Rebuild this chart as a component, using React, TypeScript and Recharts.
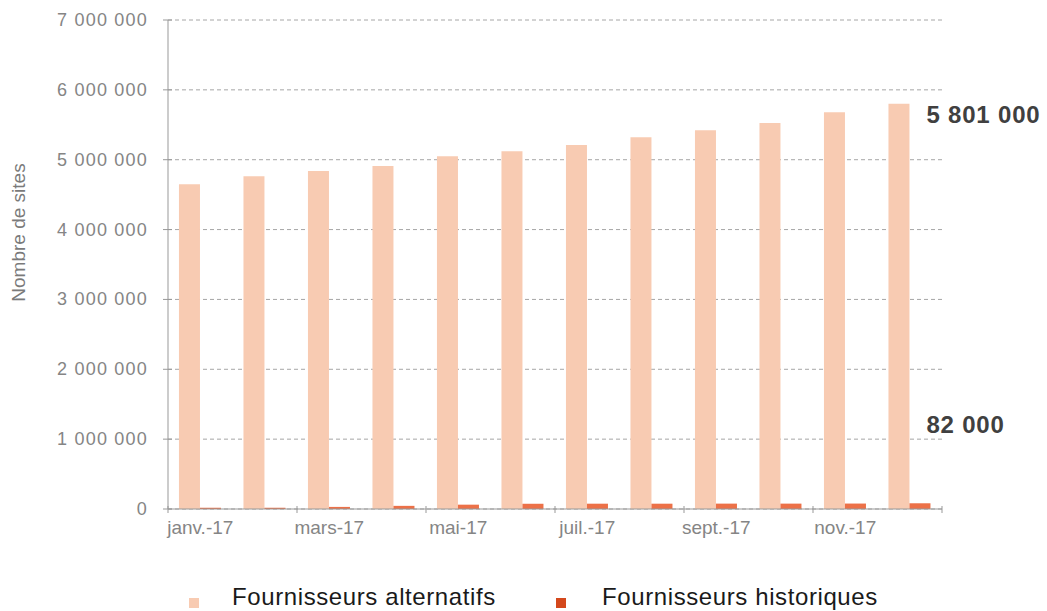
import { BarChart, Bar, XAxis, YAxis, CartesianGrid, LabelList } from 'recharts'

const months = ['janv.-17', 'févr.-17', 'mars-17', 'avr.-17', 'mai-17', 'juin-17', 'juil.-17', 'août-17', 'sept.-17', 'oct.-17', 'nov.-17', 'déc.-17']
const alternatifs = [4650000, 4765000, 4840000, 4910000, 5050000, 5120000, 5210000, 5320000, 5420000, 5525000, 5680000, 5801000]
const historiques = [18000, 18000, 30000, 45000, 62000, 75000, 76000, 76000, 77000, 77000, 78000, 82000]
const yTicks = [0, 1000000, 2000000, 3000000, 4000000, 5000000, 6000000, 7000000]

const data = months.map((m, i) => ({ month: m, alt: alternatifs[i], hist: historiques[i] }))

const FONT = '"Liberation Sans", Arial, sans-serif'
const ALT_COLOR = '#f8cbb2'
const HIST_COLOR = '#ec7148'

// spaces as thousand separators, French style
const fmt = (v: number) => String(v).replace(/\B(?=(\d{3})+(?!\d))/g, ' ')

function MonthTick({ x, y, payload, index }: any) {
  const half = payload?.offset ?? 32
  return (
    <g>
      {index % 2 === 0 && (
        <>
          <line x1={x - half} x2={x - half} y1={y - 3} y2={y + 4} stroke="#999" />
          <text x={x} y={y + 25} textAnchor="middle" fontSize={19} fill="#858585" fontFamily={FONT}>
            {payload.value}
          </text>
        </>
      )}
      {index === months.length - 1 && <line x1={x + half} x2={x + half} y1={y - 3} y2={y + 4} stroke="#999" />}
    </g>
  )
}

function ValueTick({ x, y, payload }: any) {
  return (
    <g>
      <line x1={x - 5} x2={x + 4} y1={y} y2={y} stroke="#999" />
      <text x={x - 20} y={y + 6} textAnchor="end" fontSize={18} letterSpacing={1.2} fill="#858585" fontFamily={FONT}>
        {fmt(payload.value)}
      </text>
    </g>
  )
}

function AltEndLabel(props: any) {
  const { x, y, width, value, index } = props
  if (index !== months.length - 1) return null
  return (
    <text x={x + width + 17} y={y + 19} fontSize={24} letterSpacing={0.8} fontWeight="bold" fill="#404040" fontFamily={FONT}>
      {fmt(value)}
    </text>
  )
}

function HistEndLabel(props: any) {
  const { x, y, value, index } = props
  if (index !== months.length - 1) return null
  return (
    <text x={x + 17} y={y - 70} fontSize={24} letterSpacing={0.8} fontWeight="bold" fill="#404040" fontFamily={FONT}>
      {fmt(value)}
    </text>
  )
}

function AxisTitle({ viewBox }: any) {
  const cx = 18
  const cy = viewBox.y + viewBox.height / 2 - 32
  return (
    <text x={cx} y={cy} transform={`rotate(-90, ${cx}, ${cy})`} textAnchor="middle" dominantBaseline="central" fontSize={19} fill="#7a7a7a" fontFamily={FONT}>
      Nombre de sites
    </text>
  )
}

const legendItems = [
  { square: 189, text: 232, color: ALT_COLOR, label: 'Fournisseurs alternatifs' },
  { square: 556, text: 602, color: '#d4481c', label: 'Fournisseurs historiques' },
]

function ChartLegend() {
  return (
    <svg width={1047} height={40} style={{ position: 'absolute', left: 0, top: 571 }}>
      {legendItems.map((it) => (
        <g key={it.label}>
          <rect x={it.square} y={27} width={10} height={10} fill={it.color} />
          <text x={it.text} y={34} fontSize={24} letterSpacing={0.6} fill="#1a1a1a" fontFamily={FONT}>
            {it.label}
          </text>
        </g>
      ))}
    </svg>
  )
}

export default function App() {
  return (
    <div style={{ position: 'absolute', left: 0, top: 0, width: 1047, height: 611, background: '#fff' }}>
      <BarChart width={1047} height={611} data={data} margin={{ top: 20, right: 105, bottom: 72, left: 0 }} barCategoryGap="17%" barGap={0}>
        <CartesianGrid vertical={false} stroke="#a6a6a6" strokeDasharray="4 3" />
        <XAxis dataKey="month" height={30} interval={0} tickSize={0} tickMargin={0} tickLine={false} axisLine={{ stroke: '#999' }} tick={<MonthTick />} />
        <YAxis width={168} domain={[0, 7000000]} ticks={yTicks} tickSize={0} tickMargin={0} tickLine={false} axisLine={{ stroke: '#999' }} tick={<ValueTick />} label={<AxisTitle />} />
        <Bar dataKey="alt" name="Fournisseurs alternatifs" fill={ALT_COLOR} isAnimationActive={false}>
          <LabelList dataKey="alt" content={<AltEndLabel />} />
        </Bar>
        <Bar dataKey="hist" name="Fournisseurs historiques" fill={HIST_COLOR} isAnimationActive={false}>
          <LabelList dataKey="hist" content={<HistEndLabel />} />
        </Bar>
      </BarChart>
      <ChartLegend />
    </div>
  )
}
